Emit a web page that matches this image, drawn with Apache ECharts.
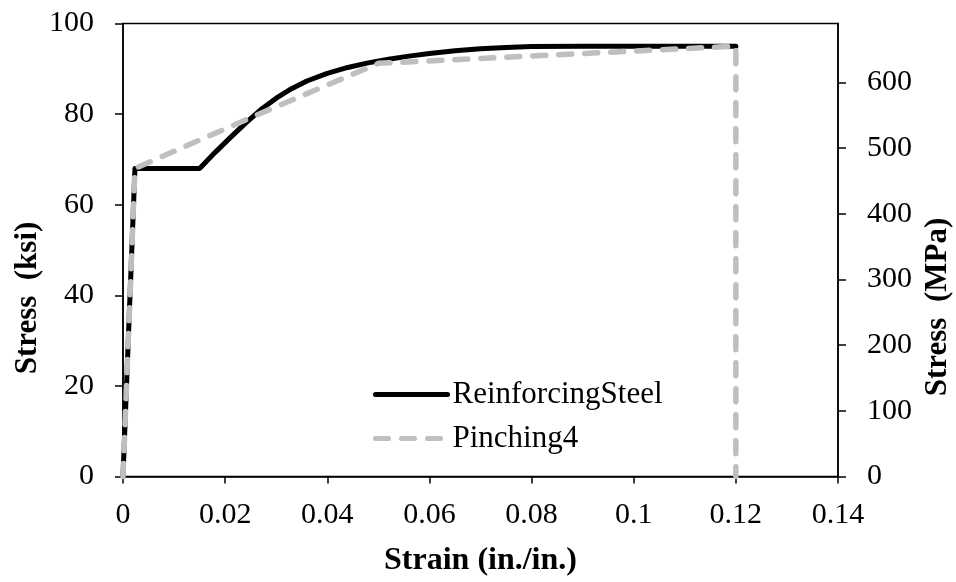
<!DOCTYPE html>
<html>
<head>
<meta charset="utf-8">
<script src="https://cdn.jsdelivr.net/npm/echarts@6/dist/echarts.min.js"></script>
<style>
html,body{margin:0;padding:0;background:#fff;}
#chart{width:956px;height:582px;}
</style>
</head>
<body>
<div id="chart"></div>
<script>
// Data
const steelStrain = [0, 0.00234, 0.015, 0.018, 0.021, 0.024, 0.027, 0.030, 0.033, 0.036, 0.040, 0.044, 0.048, 0.052, 0.056, 0.060, 0.065, 0.070, 0.075, 0.080, 0.090, 0.100, 0.110, 0.120];
const steelStress = [0, 68, 68, 71.5, 74.8, 78, 81, 83.5, 85.6, 87.3, 89, 90.3, 91.3, 92.1, 92.8, 93.4, 94, 94.4, 94.7, 94.9, 95, 95, 95, 95];
const pinchStrain = [0, 0.00234, 0.027, 0.050, 0.120, 0.120];
const pinchStress = [0, 68, 80.2, 91.2, 95, 0];
const seriesNames = ['ReinforcingSteel', 'Pinching4'];
const xTicks = [0, 0.02, 0.04, 0.06, 0.08, 0.1, 0.12, 0.14];
const ksiTicks = [0, 20, 40, 60, 80, 100];
const mpaTicks = [0, 100, 200, 300, 400, 500, 600];
const KSI_TO_MPA = 6.89476;

const FONT = 'Liberation Serif';
const pair = (xs, ys) => xs.map((x, i) => [x, ys[i]]);

const chart = echarts.init(document.getElementById('chart'), null, {renderer: 'canvas'});
chart.setOption({
  animation: false,
  backgroundColor: '#ffffff',
  grid: {left: 123, right: 118, top: 23.5, bottom: 105.5, show: true, borderColor: '#000', borderWidth: 1.5, backgroundColor: 'transparent', containLabel: false, outerBoundsMode: 'none'},
  legend: {
    orient: 'vertical', left: 373, top: 379, padding: 0, itemWidth: 72, itemHeight: 20, itemGap: 13,
    data: seriesNames,
    itemStyle: {opacity: 0},
    lineStyle: {width: 5, cap: 'round'},
    textStyle: {fontFamily: FONT, fontSize: 31, color: '#000'}
  },
  xAxis: {
    type: 'value', min: xTicks[0], max: xTicks[xTicks.length - 1], interval: 0.02,
    name: 'Strain (in./in.)', nameLocation: 'middle', nameGap: 68,
    nameTextStyle: {fontFamily: FONT, fontSize: 32, fontWeight: 'bold', color: '#000'},
    axisLine: {show: true, onZero: false, lineStyle: {color: '#000', width: 1.5}},
    axisTick: {show: true, inside: false, length: 7, lineStyle: {color: '#000', width: 1.5}},
    axisLabel: {fontFamily: FONT, fontSize: 30, color: '#000', margin: 24},
    splitLine: {show: false}
  },
  yAxis: [{
    type: 'value', position: 'left', min: ksiTicks[0], max: ksiTicks[ksiTicks.length - 1], interval: 20,
    name: 'Stress  (ksi)', nameLocation: 'middle', nameGap: 80, nameRotate: 90, nameMoveOverlap: false,
    nameTextStyle: {fontFamily: FONT, fontSize: 31, fontWeight: 'bold', color: '#000', padding: [0, 96, 0, 0]},
    axisLine: {show: true, lineStyle: {color: '#000', width: 1.5}},
    axisTick: {show: true, inside: false, length: 8, lineStyle: {color: '#000', width: 1.5}},
    axisLabel: {fontFamily: FONT, fontSize: 30, color: '#000', margin: 29},
    splitLine: {show: false}
  }, {
    type: 'value', position: 'right', min: 0, max: ksiTicks[ksiTicks.length - 1] * KSI_TO_MPA,
    name: 'Stress  (MPa)', nameLocation: 'middle', nameGap: 82, nameRotate: 90,
    nameTextStyle: {fontFamily: FONT, fontSize: 31, fontWeight: 'bold', color: '#000', padding: [0, 114, 0, 0]},
    axisLine: {show: true, lineStyle: {color: '#000', width: 1.5}},
    axisTick: {show: true, inside: false, length: 8, customValues: mpaTicks, lineStyle: {color: '#000', width: 1.5}},
    axisLabel: {fontFamily: FONT, fontSize: 30, color: '#000', margin: 29, customValues: mpaTicks},
    splitLine: {show: false}
  }],
  series: [{
    name: seriesNames[0], type: 'line', yAxisIndex: 0, showSymbol: false, symbol: 'none',
    data: pair(steelStrain, steelStress), z: 2,
    lineStyle: {color: '#000', width: 5, cap: 'round', join: 'round'},
    itemStyle: {color: '#000'}
  }, {
    name: seriesNames[1], type: 'line', yAxisIndex: 0, showSymbol: false, symbol: 'none',
    data: pair(pinchStrain, pinchStress), z: 3,
    lineStyle: {color: '#bfbfbf', width: 5.5, type: [13, 13], cap: 'round', join: 'round'},
    itemStyle: {color: '#bfbfbf'}
  }]
});
</script>
</body>
</html>
